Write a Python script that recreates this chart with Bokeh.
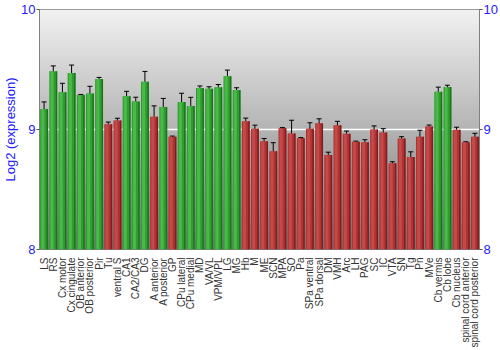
import math
import numpy as np
from bokeh.plotting import figure
from bokeh.models import ColumnDataSource, FactorRange, Range1d, LinearAxis, Whisker, TeeHead, FixedTicker
from bokeh.transform import dodge
from bokeh.embed import file_html
from bokeh.resources import INLINE

regions = ["LS", "RS", "Cx motor", "Cx cingulate", "OB anterior", "OB posterior", "Pir", "Tu",
           "ventral S", "CA1", "CA2/CA3", "DG", "A anterior", "A posterior", "GP", "CPu lateral",
           "CPu medial", "MD", "VA/VL", "VPM/VPL", "LG", "MG", "Hb", "M", "ME", "SCN", "MPA", "SO",
           "Pa", "SPa ventral", "SPa dorsal", "DM", "VMH", "Arc", "LH", "PAG", "SC", "IC", "VTA",
           "SN", "Tg", "Pn", "MVe", "Cb vermis", "Cb lobe", "Cb nucleus", "spinal cord anterior",
           "spinal cord posterior"]

expression = [9.17, 9.485, 9.31, 9.47, 9.287, 9.30, 9.42, 9.044,
              9.074, 9.278, 9.234, 9.397, 9.107, 9.187, 8.94, 9.229,
              9.196, 9.345, 9.339, 9.353, 9.444, 9.33, 9.069, 9.006, 8.903, 8.818, 9.011, 8.967,
              8.928, 9.006, 9.052, 8.788, 9.036, 8.964, 8.898, 8.893, 9.0, 8.975, 8.719,
              8.926, 8.771, 8.94, 9.025, 9.314, 9.355, 8.997, 8.893,
              8.94]

error = [0.06, 0.045, 0.075, 0.067, 0.005, 0.06, 0.014, 0.018,
         0.02, 0.04, 0.035, 0.087, 0.09, 0.072, 0.005, 0.073,
         0.072, 0.018, 0.017, 0.022, 0.051, 0.018, 0.026, 0.03, 0.022, 0.072, 0.005, 0.11,
         0.005, 0.05, 0.037, 0.023, 0.032, 0.023, 0.005, 0.022, 0.03, 0.032, 0.012,
         0.014, 0.043, 0.054, 0.012, 0.039, 0.014, 0.022, 0.005,
         0.028]

group = ["high", "high", "high", "high", "high", "high", "high", "low",
         "low", "high", "high", "high", "low", "high", "low", "high",
         "high", "high", "high", "high", "high", "high", "low", "low", "low", "low", "low", "low",
         "low", "low", "low", "low", "low", "low", "low", "low", "low", "low", "low",
         "low", "low", "low", "low", "high", "high", "low", "low",
         "low"]

y_ticks = [8, 9, 10]

palette = {"high": ("#2e9e2e", "#4ab94a", "#1d731d"),
           "low": ("#b03232", "#c44a4a", "#7e1f1f")}

src = ColumnDataSource(dict(
    cat=regions,
    val=expression,
    upper=[v + e for v, e in zip(expression, error)],
    lower=[v - e for v, e in zip(expression, error)],
    mid=[palette[g][0] for g in group],
    light=[palette[g][1] for g in group],
    dark=[palette[g][2] for g in group],
))

p = figure(x_range=FactorRange(*regions), y_range=Range1d(y_ticks[0], y_ticks[-1]),
           width=500, height=350, output_backend="svg", toolbar_location=None,
           min_border_left=34, min_border_right=21, min_border_top=9, min_border_bottom=99)

# background gradient inside the frame
n = 256
shade = np.linspace(118, 242, n).astype(np.uint32)
img = np.empty((n, 1), dtype=np.uint32)
view = img.view(dtype=np.uint8).reshape((n, 1, 4))
view[:, 0, 0] = shade
view[:, 0, 1] = shade
view[:, 0, 2] = shade
view[:, 0, 3] = 255
bg = p.image_rgba(image=[img], x=0, y=y_ticks[0], dw=len(regions), dh=y_ticks[-1] - y_ticks[0])
bg.level = "image"

p.vbar(x="cat", top="val", bottom=y_ticks[0], width=0.86, source=src,
       fill_color="mid", line_color=None)
p.vbar(x=dodge("cat", -0.14, range=p.x_range), top="val", bottom=y_ticks[0], width=0.34,
       source=src, fill_color="light", line_color=None)
p.vbar(x=dodge("cat", 0.35, range=p.x_range), top="val", bottom=y_ticks[0], width=0.16,
       source=src, fill_color="dark", line_color=None)

wh = Whisker(source=src, base="cat", upper="upper", lower="lower", dimension="height",
             line_color="black", line_width=1,
             upper_head=TeeHead(size=5, line_color="black", line_width=1),
             lower_head=TeeHead(size=5, line_color="black", line_width=1))
p.add_layout(wh)

# grid
p.xgrid.grid_line_color = None
p.ygrid.ticker = FixedTicker(ticks=[9])
p.ygrid.grid_line_color = "white"
p.ygrid.grid_line_width = 1.5

p.outline_line_color = "#808080"
p.outline_line_width = 1

blue = "#2020ff"
font = "Liberation Sans"

# left axis
ya = p.yaxis[0]
ya.ticker = FixedTicker(ticks=y_ticks)
ya.axis_label = "Log2 (expression)"
ya.axis_label_text_color = blue
ya.axis_label_text_font = font
ya.axis_label_text_font_style = "normal"
ya.axis_label_text_font_size = "13px"
ya.axis_label_standoff = 0
ya.major_label_text_color = blue
ya.major_label_text_font = font
ya.major_label_text_font_size = "13px"
ya.major_label_standoff = 1
ya.major_tick_in = 0
ya.major_tick_out = 3
ya.major_tick_line_color = "#555555"
ya.minor_tick_line_color = None
ya.axis_line_color = "#808080"

# right axis
ra = LinearAxis(ticker=FixedTicker(ticks=y_ticks))
ra.major_label_text_color = blue
ra.major_label_text_font = font
ra.major_label_text_font_size = "13px"
ra.major_label_standoff = 1
ra.major_tick_in = 0
ra.major_tick_out = 3
ra.major_tick_line_color = "#555555"
ra.minor_tick_line_color = None
ra.axis_line_color = "#808080"
p.add_layout(ra, "right")

# bottom axis
xa = p.xaxis[0]
xa.major_label_orientation = math.pi / 2
xa.major_label_text_font = font
xa.major_label_text_font_size = "10px"
xa.major_label_text_color = "#333333"
xa.major_label_standoff = 2
xa.major_tick_line_color = None
xa.axis_line_color = None

open("out.html", "w").write(file_html(p, INLINE))
